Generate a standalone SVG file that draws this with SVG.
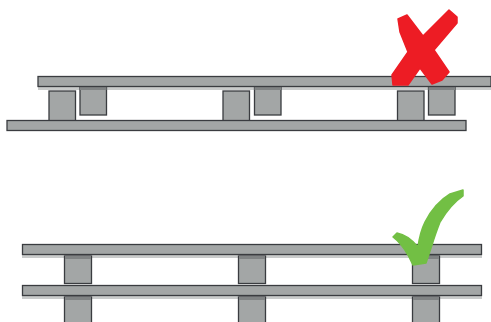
<svg xmlns="http://www.w3.org/2000/svg" width="491" height="322" viewBox="0 0 491 322">
<style>
.b{fill:#a3a6a6;stroke:#3a3c40;stroke-width:1.3}
.s{fill:#c9cbcb}
.d{fill:#808384}
</style>
<rect width="491" height="322" fill="#fff"/>
<g id="wrong-assembly">
<rect class="s" x="38" y="86" width="453" height="4"/>
<g id="wrong-upper-blocks">
<rect class="b" x="80" y="87" width="26.500" height="28"/><rect class="d" x="80" y="87" width="26.500" height="3"/>
<rect class="b" x="254.500" y="87" width="26.500" height="28"/><rect class="d" x="254.500" y="87" width="26.500" height="3"/>
<rect class="b" x="428.500" y="87" width="26.500" height="28"/><rect class="d" x="428.500" y="87" width="26.500" height="3"/>
</g>
<g id="wrong-lower-blocks">
<rect class="b" x="49" y="91" width="26.500" height="30"/>
<rect class="b" x="223" y="91" width="26.500" height="30"/>
<rect class="b" x="397.500" y="91" width="26.500" height="30"/>
</g>
<rect id="wrong-top-plank" class="b" x="38" y="76.500" width="453" height="10"/>
<rect id="wrong-bottom-plank" class="b" x="7" y="120.500" width="459" height="10"/>
</g>
<g id="right-assembly">
<rect class="s" x="22" y="254" width="460" height="4"/>
<rect class="s" x="22" y="295" width="460" height="4"/>
<g id="right-upper-blocks">
<rect class="b" x="64.500" y="256" width="27" height="27.500"/><rect class="d" x="65" y="256" width="26" height="3"/>
<rect class="b" x="238.500" y="256" width="27" height="27.500"/><rect class="d" x="239" y="256" width="26" height="3"/>
<rect class="b" x="412.500" y="256" width="27" height="27.500"/><rect class="d" x="413" y="256" width="26" height="3"/>
</g>
<g id="right-lower-blocks">
<rect class="b" x="64.500" y="297" width="27" height="30"/><rect class="d" x="65" y="297" width="26" height="3"/>
<rect class="b" x="238.500" y="297" width="27" height="30"/><rect class="d" x="239" y="297" width="26" height="3"/>
<rect class="b" x="412.500" y="297" width="27" height="30"/><rect class="d" x="413" y="297" width="26" height="3"/>
</g>
<rect id="right-top-plank" class="b" x="22.500" y="244.500" width="459" height="10"/>
<rect id="right-bottom-plank" class="b" x="22.500" y="285.500" width="459" height="10"/>
</g>
<path id="red-cross" fill="#ed1c24" stroke="#ed1c24" stroke-width="1.500" stroke-linejoin="round" d="M398 19 L407 15 L423 36 L449 10 L457 17 L457 23 L434 50 L449 72 L442 80 L432 84 L420 68 L408 85 L393 85 L392 75 L408 52 L400 32 Z"/>
<path id="green-check" fill="#72bf44" stroke="#72bf44" stroke-width="1.500" stroke-linejoin="round" d="M463 190 L463 196 Q451 204 440 222 Q435 235 432 245 L426 263 L413 265 L408 255 Q401 243 393 237 L397 233 Q408 235 418 247 Q420 232 425 222 Q435 203 450 194 Z"/>
</svg>
